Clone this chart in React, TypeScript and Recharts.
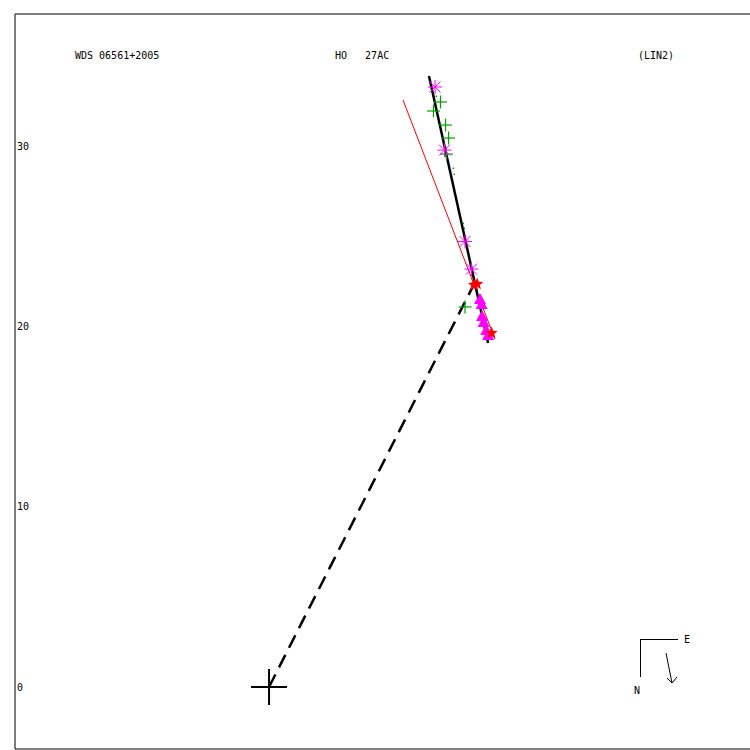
import React from 'react';
import { ScatterChart, Scatter, XAxis, YAxis, ReferenceLine, ReferenceArea, Customized } from 'recharts';

// plot window (arcsec), same scale on both axes
const X_MIN = -14.09;
const X_MAX = 27.23;
const Y_MIN = -3.44;
const Y_MAX = 37.33;
const Y_TICKS = [0, 10, 20, 30];

// measures
const asteriskX = [9.21, 9.73, 10.87, 11.23];
const asteriskY = [33.28, 29.78, 24.71, 23.18];
const plusX = [9.51, 9.12, 9.79, 9.96, 9.84, 10.87];
const plusY = [32.45, 31.95, 31.17, 30.45, 29.56, 21.08];
const starX = [11.37, 11.54, 12.34];
const starY = [22.3, 22.35, 19.63];
const triangleX = [11.7, 11.79, 11.81, 11.9, 12.04, 12.15];
const triangleY = [21.52, 21.24, 20.58, 20.24, 19.8, 19.52];
const dotX = [9.26, 10.21, 10.26, 10.76, 10.82];
const dotY = [32.78, 28.79, 28.45, 25.73, 25.46];
const primaryX = [0];
const primaryY = [0];

// linear ephemeris ends, other fit, and the line to the last measure
const fitLine = [{ x: 8.87, y: 33.89 }, { x: 12.15, y: 19.08 }];
const redLine = [{ x: 7.43, y: 32.56 }, { x: 12.53, y: 19.3 }];
const radiusLine = [{ x: 0, y: 0 }, { x: 11.37, y: 22.35 }];

const zip = (xs: number[], ys: number[]) => xs.map((x, i) => ({ x, y: ys[i] }));

const FONT = '"DejaVu Sans Mono", monospace';
const MAGENTA = '#ff00ff';
const GREEN = '#00a000';

const Asterisk = (p: any) => {
  const { cx, cy } = p;
  const r = 7, d = 5.5;
  return (
    <g stroke={MAGENTA} strokeWidth={1}>
      <line x1={cx - r} y1={cy} x2={cx + r} y2={cy} />
      <line x1={cx} y1={cy - r} x2={cx} y2={cy + r} />
      <line x1={cx - d} y1={cy - d} x2={cx + d} y2={cy + d} />
      <line x1={cx - d} y1={cy + d} x2={cx + d} y2={cy - d} />
    </g>
  );
};

const Plus = (p: any) => {
  const { cx, cy } = p;
  const r = 6.5;
  return (
    <g stroke={GREEN} strokeWidth={1.2}>
      <line x1={cx - r} y1={cy} x2={cx + r} y2={cy} />
      <line x1={cx} y1={cy - r} x2={cx} y2={cy + r} />
    </g>
  );
};

const Star = (p: any) => {
  const { cx, cy } = p;
  const pts: string[] = [];
  for (let i = 0; i < 10; i++) {
    const r = i % 2 === 0 ? 6.5 : 2.8;
    const a = -Math.PI / 2 + (i * Math.PI) / 5;
    pts.push(`${cx + r * Math.cos(a)},${cy + r * Math.sin(a)}`);
  }
  return <polygon points={pts.join(' ')} fill="#ff0000" />;
};

const Triangle = (p: any) => {
  const { cx, cy } = p;
  return <polygon points={`${cx},${cy - 6} ${cx - 6},${cy + 5} ${cx + 6},${cy + 5}`} fill={MAGENTA} />;
};

const Dot = (p: any) => <rect x={p.cx - 0.5} y={p.cy - 0.5} width={1.5} height={1.5} fill={GREEN} />;

const Cross = (p: any) => {
  const { cx, cy } = p;
  return (
    <g stroke="#000" strokeWidth={2}>
      <line x1={cx - 18} y1={cy} x2={cx + 18} y2={cy} />
      <line x1={cx} y1={cy - 18} x2={cx} y2={cy + 18} />
    </g>
  );
};

const Labels = () => (
  <g fontFamily={FONT} fontSize={10} fill="#000">
    <text x={75} y={58.5}>WDS 06561+2005</text>
    <text x={335} y={58.5} style={{ whiteSpace: 'pre' }}>HO   27AC</text>
    <text x={638} y={58.5}>(LIN2)</text>
    {/* orientation */}
    <g stroke="#000" strokeWidth={1}>
      <line x1={640} y1={639.5} x2={678} y2={639.5} />
      <line x1={640.5} y1={639} x2={640.5} y2={677} />
      <line x1={666} y1={653} x2={672} y2={683} />
      <line x1={672} y1={683} x2={667} y2={678} />
      <line x1={672} y1={683} x2={677} y2={677} />
    </g>
    <text x={684} y={643}>E</text>
    <text x={634} y={694}>N</text>
  </g>
);

const App: React.FC = () => {
  return (
    <div style={{ position: 'absolute', left: 0, top: 0, width: 750, height: 750, overflow: 'hidden', background: '#fff' }}>
      <ScatterChart width={770} height={750} margin={{ top: 14, left: 15, right: 10, bottom: 1 }}>
        <XAxis type="number" dataKey="x" domain={[X_MIN, X_MAX]} hide allowDataOverflow />
        <YAxis
          type="number"
          dataKey="y"
          domain={[Y_MIN, Y_MAX]}
          ticks={Y_TICKS}
          mirror
          axisLine={false}
          tickLine={false}
          tickSize={0}
          tickMargin={2}
          allowDataOverflow
          tick={{ fontFamily: FONT, fontSize: 10, fill: '#000' }}
        />
        <ReferenceArea x1={X_MIN} x2={X_MAX} y1={Y_MIN} y2={Y_MAX} fill="none" stroke="#000" strokeWidth={1} ifOverflow="visible" />
        <ReferenceLine segment={radiusLine} stroke="#000" strokeWidth={2.5} strokeDasharray="14 8" />
        <ReferenceLine segment={redLine} stroke="#ff0000" strokeWidth={1} />
        <ReferenceLine segment={fitLine} stroke="#000" strokeWidth={2.5} />
        <Scatter data={zip(dotX, dotY)} shape={Dot} isAnimationActive={false} />
        <Scatter data={zip(plusX, plusY)} shape={Plus} isAnimationActive={false} />
        <Scatter data={zip(triangleX, triangleY)} shape={Triangle} isAnimationActive={false} />
        <Scatter data={zip(asteriskX, asteriskY)} shape={Asterisk} isAnimationActive={false} />
        <Scatter data={zip(starX, starY)} shape={Star} isAnimationActive={false} />
        <Scatter data={zip(primaryX, primaryY)} shape={Cross} isAnimationActive={false} />
        <Customized component={<Labels />} />
      </ScatterChart>
    </div>
  );
};

export default App;
